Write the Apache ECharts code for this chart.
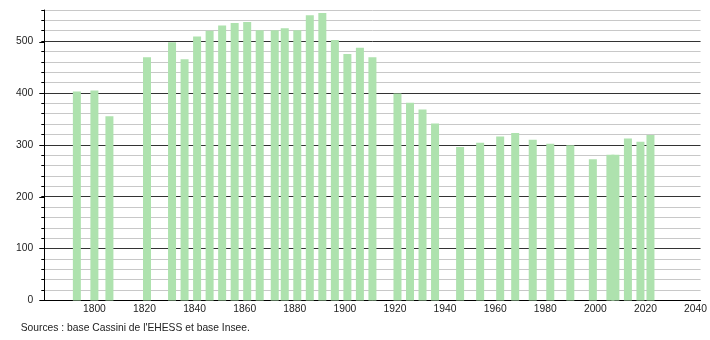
<!DOCTYPE html>
<html>
<head>
<meta charset="utf-8">
<script src="https://cdn.jsdelivr.net/npm/echarts@6/dist/echarts.min.js"></script>
<style>html,body{margin:0;padding:0;background:#fff}#c{width:710px;height:340px}</style>
</head>
<body>
<div id="c"></div>
<script>
const years = [1793,1800,1806,1821,1831,1836,1841,1846,1851,1856,1861,1866,1872,1876,1881,1886,1891,1896,1901,1906,1911,1921,1926,1931,1936,1946,1954,1962,1968,1975,1982,1990,1999,2006,2008,2013,2018,2022];
const population = [403,405,355,469,498,465,509,520,530,535,537,521,521,525,521,550,554,502,475,487,469,399,381,368,341,296,304,316,323,310,302,299,272,281,281,312,306,319];
const xTickLabels = [1800,1820,1840,1860,1880,1900,1920,1940,1960,1980,2000,2020,2040];
const yTickLabels = [0,100,200,300,400,500];
const sourceText = "Sources : base Cassini de l'EHESS et base Insee.";

const chart = echarts.init(document.getElementById('c'), null, {renderer:'canvas'});
const font = "'Liberation Sans', Arial, sans-serif";
const gl = 44.3, gr = 9;
chart.setOption({
  animation:false,
  grid:[
    {left:gl, right:gr, top:10, bottom:39.6},
    {left:gl, right:gr, top:41.9, bottom:39.6}
  ],
  xAxis:[
    {type:'value', gridIndex:0, min:1780, max:2042, interval:20,
     axisLine:{show:true, lineStyle:{color:'#000', width:1}},
     axisTick:{show:false}, splitLine:{show:false},
     axisLabel:{margin:4, fontSize:10.3, color:'#222', fontFamily:font,
       formatter:v => xTickLabels.includes(v) ? String(v) : ''}},
    {type:'value', gridIndex:1, min:1780, max:2042, show:false}
  ],
  yAxis:[
    {type:'value', gridIndex:0, min:0, max:560, interval:20,
     axisLine:{show:true, lineStyle:{color:'#000', width:1}},
     axisTick:{show:true, length:3, lineStyle:{color:'#000'}},
     splitLine:{show:true, lineStyle:{width:1, color:['#333','#c8c8c8','#c8c8c8','#c8c8c8','#c8c8c8']}},
     axisLabel:{margin:11, fontSize:10.3, color:'#222', fontFamily:font,
       formatter:v => yTickLabels.includes(v) ? String(v) : ''}},
    {type:'value', gridIndex:1, min:0, max:500, interval:100,
     axisLine:{show:false},
     axisTick:{show:true, length:5, lineStyle:{color:'#000'}},
     splitLine:{show:false}, axisLabel:{show:false}}
  ],
  series:[{
    type:'bar', xAxisIndex:0, yAxisIndex:0,
    barWidth:8,
    itemStyle:{color:'#aee2ae'},
    data: years.map((y,i)=>[y, population[i]])
  }],
  graphic:[{
    type:'text', left:20.7, top:323.5,
    style:{text:sourceText, fill:'#222', font:"10.3px 'Liberation Sans', Arial, sans-serif"}
  }]
});
</script>
</body>
</html>
